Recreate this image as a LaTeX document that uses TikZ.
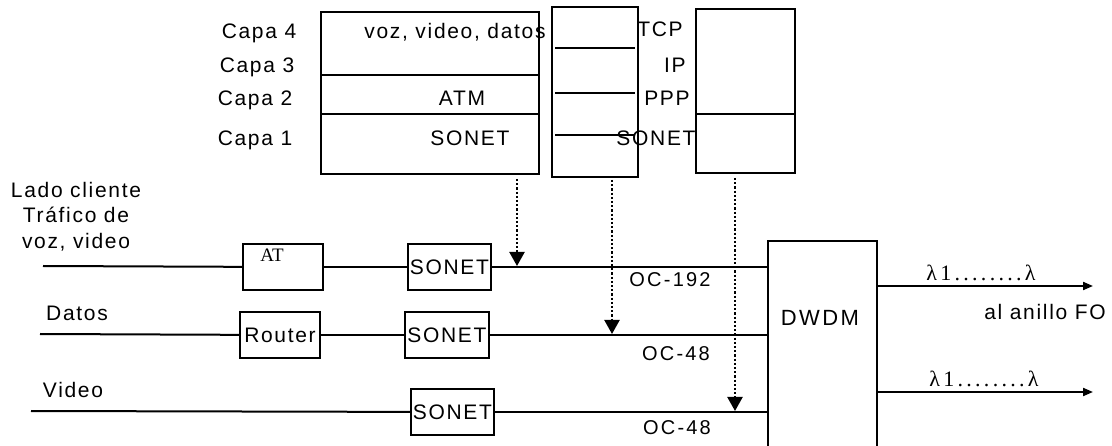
\documentclass[tikz,border=0pt]{standalone}
\usepackage{fontspec}
\setmainfont{Liberation Sans}[LetterSpace=8]
\newfontfamily\wide{Liberation Sans}[LetterSpace=11]
\newfontfamily\tnr{Liberation Serif}
\newfontfamily\tnrwide{Liberation Serif}[LetterSpace=15]
\usetikzlibrary{arrows.meta,positioning}

\begin{document}
\begin{tikzpicture}[x=1pt,y=-1pt,line width=2pt,
  font=\fontsize{21}{25.5}\selectfont,
  bx/.style={draw,inner sep=0pt,anchor=north west,text height=15pt,text depth=0pt},
  lb/.style={inner sep=0pt,text height=15pt,text depth=0pt},
  oc/.style={lb,font=\wide\fontsize{20}{23}\selectfont,text height=14.3pt},
  dar/.style={dotted,line width=2.2pt,-{Triangle[length=14pt,width=15pt]}},
  oar/.style={-{Triangle[length=10pt,width=8pt]}}]
\useasboundingbox (0,0) rectangle (1112,446);
\clip (0,0) rectangle (1112,446);

% pilas de protocolos
\node[bx,minimum width=218,minimum height=162] (pila1) at (320,11) {};
\node[bx,minimum width=86,minimum height=170]  (pila2) at (551,6) {};
\node[bx,minimum width=99,minimum height=164]  (pila3) at (695,8) {};
\draw (pila1.west |- 0,75) -- (pila1.east |- 0,75);
\draw (pila1.west |- 0,114) -- (pila1.east |- 0,114);
\draw (555,48) -- (635,48);
\draw (555,93) -- (635,93);
\draw (555,135) -- (635,135);
\draw (pila3.west |- 0,114) -- (pila3.east |- 0,114);

\node[lb] (c4) at (259,31) {Capa 4};
\node[lb] (c3) at (257,65) {Capa 3};
\node[lb] (c2) at (255,98) {Capa 2};
\node[lb] (c1) at (255,138) {Capa 1};
\node[lb] (vvd) at (455,31) {voz, video, datos};
\node[lb] (atmc) at (462,98) {ATM};
\node[lb] (son1) at (470,138) {SONET};
\node[lb] (tcp) at (660,29) {TCP};
\node[lb] (ip)  at (675,65) {IP};
\node[lb] (ppp) at (667,98) {PPP};
\node[lb] (son2) at (656,138) {SONET};

% lado cliente
\node[inner sep=0pt,align=center,anchor=north] (cli) at (76,181)
  {Lado cliente\\Tr\'afico de\\voz, video};
\node[lb] (dat) at (77,313) {Datos};
\node[lb] (vid) at (73,390) {Video};

\node[bx,minimum width=80,minimum height=46] (atm) at (242,243) {};
\node[lb,font=\tnr\fontsize{19}{22}\selectfont,text height=12.5pt] (atl) at (272,255) {AT};
\node[bx,minimum width=80,minimum height=46] (rt) at (239,311) {Router};
\node[bx,minimum width=83,minimum height=46] (s1) at (407,243) {SONET};
\node[bx,minimum width=84,minimum height=46] (s2) at (404,311) {SONET};
\node[bx,minimum width=83,minimum height=46] (s3) at (410,388) {SONET};
\node[bx,minimum width=109,minimum height=230] (dwdm) at (767,240) {};
\node[lb,font=\wide\fontsize{22}{26}\selectfont,text height=15.7pt] (dwl) at (820,318) {DWDM};

\coordinate (e1) at (43,266);
\coordinate (e2) at (40,334);
\coordinate (e3) at (31,411);
\draw (e1) -- (atm);
\draw (atm) -- (s1);
\draw (s1) -- (s1 -| dwdm.west);
\draw (e2) -- (rt);
\draw (rt) -- (s2);
\draw (s2) -- (s2 -| dwdm.west);
\draw (e3) -- (s3);
\draw (s3) -- (s3 -| dwdm.west);

\node[oc] (oc1) at (670,279) {OC-192};
\node[oc] (oc2) at (676,353) {OC-48};
\node[oc] (oc3) at (677,427) {OC-48};

% flechas punteadas
\coordinate (t1) at (517,266);
\coordinate (t2) at (612,334);
\coordinate (t3) at (735,411);
\draw[dar] ([yshift=-4pt]pila1.south -| t1) -- (t1);
\draw[dar] ([yshift=-2pt]pila2.south -| t2) -- (t2);
\draw[dar] ([yshift=-4pt]pila3.south -| t3) -- (t3);

% salidas
\coordinate (o1) at (1093,286);
\coordinate (o2) at (1093,392);
\draw[oar] (dwdm.east |- o1) -- (o1);
\draw[oar] (dwdm.east |- o2) -- (o2);
\node[lb,font=\tnrwide\fontsize{22}{26}\selectfont,text height=14.5pt] (la1) at (981,273) {λ1........λ};
\node[lb,font=\tnrwide\fontsize{22}{26}\selectfont,text height=14.5pt] (la2) at (984,379) {λ1........λ};
\node[lb] (fo) at (1045,312) {al anillo FO};
\end{tikzpicture}
\end{document}
